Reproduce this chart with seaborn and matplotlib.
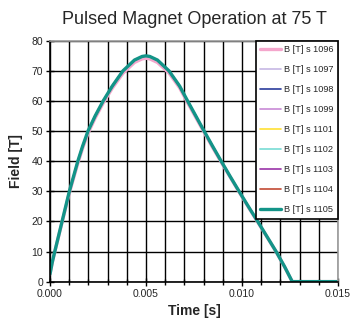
import matplotlib
matplotlib.use("Agg")
import matplotlib.pyplot as plt
import seaborn as sns
import pandas as pd
from matplotlib.ticker import MultipleLocator, FixedLocator

sns.set_theme(style="white")
plt.rcParams["font.family"] = ["Liberation Sans Narrow", "Liberation Sans", "DejaVu Sans"]

# Pulse time base [s]
time_s = [0.0, 0.00012, 0.00025, 0.00044, 0.00063, 0.00082, 0.00101, 0.00123, 0.00145,
          0.0017, 0.00198, 0.00235, 0.00277, 0.00325, 0.0038, 0.0044, 0.0048, 0.005,
          0.0052, 0.0056, 0.0062, 0.00675, 0.00717, 0.0076, 0.00803, 0.00847, 0.00892,
          0.00938, 0.00985, 0.01033, 0.01082, 0.0113, 0.01178, 0.01222, 0.01262, 0.015]

# Measured field [T] for the reference shot and the remaining shots
field_main = [2.5, 6.5, 10, 15, 20, 25, 30, 35, 40,
              45, 50, 55, 60, 65, 70, 73.6, 74.8, 75,
              74.8, 73.6, 70, 65, 60, 55, 50, 45, 40,
              35, 30, 25, 20, 15, 10, 5, 0, 0]
field_1096 = [2.5, 6.4, 9.9, 14.8, 19.7, 24.6, 29.5, 34.4, 39.3,
              44.3, 49.3, 54.3, 59.3, 64.3, 69.2, 72.8, 74.0, 74.2,
              74.0, 72.8, 69.3, 64.4, 59.4, 54.5, 49.6, 44.6, 39.7,
              34.8, 29.8, 24.8, 19.8, 14.9, 9.9, 4.9, 0, 0]

shots = ["1096", "1097", "1098", "1099", "1101", "1102", "1103", "1104", "1105"]
shot_fields = [field_1096, field_main, field_main, field_main, field_main,
               field_main, field_main, field_main, field_main]
shot_colors = ["#f4a6cc", "#c6b8e4", "#2b3c9c", "#c88ad6", "#ffe033",
               "#78dcd4", "#9a34a8", "#c24a34", "#139488"]
shot_widths = [2.4, 1.2, 1.2, 1.2, 1.2, 1.2, 1.2, 1.2, 2.4]

rows = []
for shot, vals in zip(shots, shot_fields):
    for t, b in zip(time_s, vals):
        rows.append({"time": t, "field": b, "shot": f"B [T] s {shot}"})
df = pd.DataFrame(rows)

fig = plt.figure(figsize=(3.52, 3.29), dpi=100)
ax = fig.add_axes([0.142, 0.144, 0.818, 0.732])

for i, shot in enumerate(shots):
    label = f"B [T] s {shot}"
    sub = df[df["shot"] == label]
    sns.lineplot(data=sub, x="time", y="field", ax=ax, color=shot_colors[i],
                 linewidth=shot_widths[i], label=label, estimator=None, sort=False)

ax.set_xlim(0, 0.015)
ax.set_ylim(0, 80)
ax.xaxis.set_major_locator(FixedLocator([0.0, 0.005, 0.010, 0.015]))
ax.xaxis.set_minor_locator(MultipleLocator(0.001))
ax.yaxis.set_major_locator(MultipleLocator(10))
ax.set_xticklabels(["0.000", "0.005", "0.010", "0.015"])
ax.grid(True, which="both", color="black", linewidth=1.0)
ax.set_axisbelow(True)

ax.tick_params(axis="both", which="major", direction="inout", length=6, width=1,
               color="black", labelsize=7.5, pad=2, left=True, bottom=True)
ax.tick_params(axis="x", which="minor", direction="inout", length=4, width=1,
               color="black", bottom=True)
for s in ["left", "bottom"]:
    ax.spines[s].set_color("black")
    ax.spines[s].set_linewidth(1.2)
for s in ["top", "right"]:
    ax.spines[s].set_color("#9a9a9a")
    ax.spines[s].set_linewidth(1.2)

ax.set_xlabel("Time [s]", fontsize=10, fontweight="bold", labelpad=4,
              family=["Liberation Sans", "DejaVu Sans"])
ax.set_ylabel("Field [T]", fontsize=10, fontweight="bold", labelpad=6,
              family=["Liberation Sans", "DejaVu Sans"])
ax.set_title("Pulsed Magnet Operation at 75 T", fontsize=13, pad=12)

leg = ax.legend(loc="upper right", bbox_to_anchor=(1.0, 1.0), fontsize=6.6,
                frameon=True, fancybox=False, framealpha=1, edgecolor="black",
                handlelength=2.2, handletextpad=0.35, labelspacing=1.2,
                borderpad=0.5, borderaxespad=0)
leg.get_frame().set_linewidth(1.2)

fig.savefig("out.png", dpi=100, facecolor="white")
